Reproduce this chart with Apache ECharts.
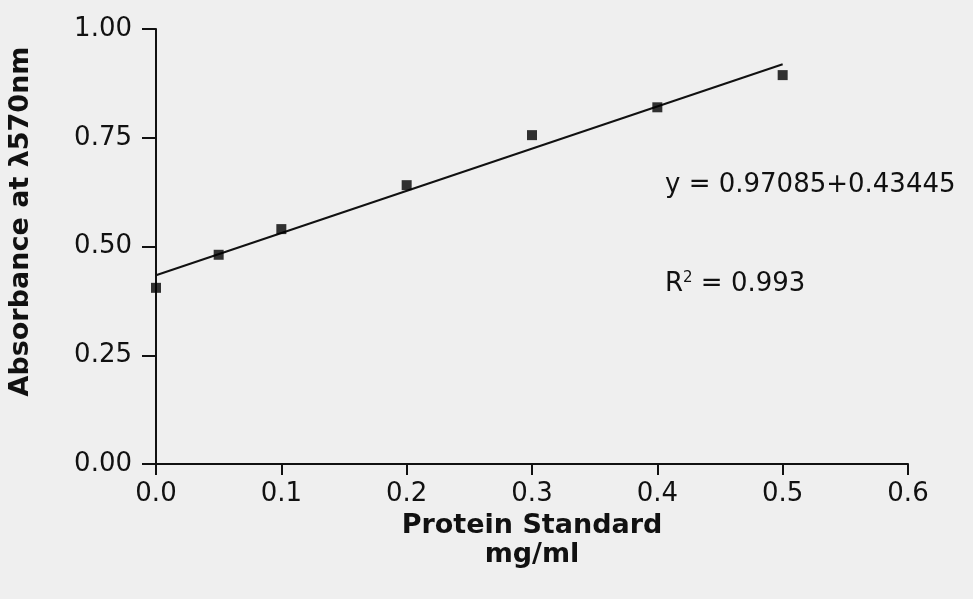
<!DOCTYPE html>
<html>
<head>
<meta charset="utf-8">
<script src="https://cdn.jsdelivr.net/npm/echarts@6/dist/echarts.min.js"></script>
<style>
html,body{margin:0;padding:0;background:#efefef;}
#chart{width:973px;height:599px;}
</style>
</head>
<body>
<div id="chart"></div>
<script>
// Data
const concentration = [0, 0.05, 0.1, 0.2, 0.3, 0.4, 0.5];
const absorbance = [0.405, 0.481, 0.540, 0.641, 0.756, 0.820, 0.894];
const fitX = [0, 0.5];
const fitY = [0.434, 0.919];
const xTicks = [0, 0.1, 0.2, 0.3, 0.4, 0.5, 0.6];
const yTicks = [0, 0.25, 0.5, 0.75, 1.0];
const equationText = 'y = 0.97085+0.43445';
const r2Value = '0.993';

const chart = echarts.init(document.getElementById('chart'));
const font = '"DejaVu Sans", Arial, Helvetica, sans-serif';
chart.setOption({
  backgroundColor: '#efefef',
  animation: false,
  grid: {left: 156, right: 65, top: 29, bottom: 135, containLabel: false, outerBoundsMode: 'none'},
  xAxis: {
    type: 'value', min: xTicks[0], max: xTicks[xTicks.length-1], interval: 0.1,
    name: 'Protein Standard\nmg/ml', nameLocation: 'middle', nameGap: 34,
    nameTextStyle: {fontFamily: font, fontWeight: 'bold', fontSize: 27, color: '#111', lineHeight: 29},
    axisLine: {lineStyle: {color: '#111', width: 2}},
    axisTick: {length: 11, lineStyle: {color: '#111', width: 2}},
    axisLabel: {fontFamily: font, fontSize: 26, color: '#111', margin: 17, formatter: v => v.toFixed(1)},
    splitLine: {show: false}
  },
  yAxis: {
    type: 'value', min: yTicks[0], max: yTicks[yTicks.length-1], interval: 0.25,
    name: 'Absorbance at λ570nm', nameLocation: 'middle', nameGap: 122, nameRotate: 90,
    nameTextStyle: {fontFamily: font, fontWeight: 'bold', fontSize: 27, color: '#111', padding: [0,0,0,50]},
    axisLine: {lineStyle: {color: '#111', width: 2}},
    axisTick: {length: 14, lineStyle: {color: '#111', width: 2}},
    axisLabel: {fontFamily: font, fontSize: 26, color: '#111', margin: 24, formatter: v => v.toFixed(2)},
    splitLine: {show: false}
  },
  series: [
    {
      type: 'scatter', symbol: 'rect', symbolSize: 10,
      itemStyle: {color: '#000'},
      data: concentration.map((x, i) => [x, absorbance[i]]),
      z: 3
    },
    {
      type: 'line', symbol: 'none', lineStyle: {color: '#111', width: 2},
      data: fitX.map((x, i) => [x, fitY[i]]),
      z: 2
    }
  ],
  graphic: [
    {type: 'text', left: 665, top: 172, style: {text: equationText, font: '26px ' + font, fill: '#111'}},
    {type: 'text', left: 665, top: 271, style: {
      text: 'R{sup|2} = ' + r2Value, font: '26px ' + font, fill: '#111',
      rich: {sup: {fontSize: 15, verticalAlign: 'top', padding: [0,0,12,0], fontFamily: font, fill: '#111'}}
    }}
  ]
});
</script>
</body>
</html>
